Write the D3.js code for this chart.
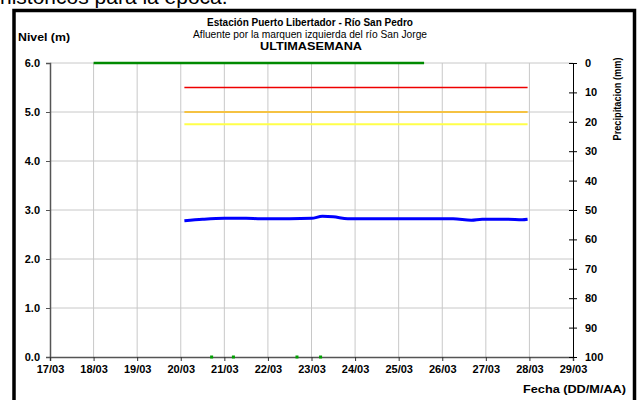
<!DOCTYPE html>
<html><head><meta charset="utf-8">
<script src="https://cdn.jsdelivr.net/npm/d3@7"></script>
<style>body{margin:0;background:#fff;}svg{display:block;font-family:"Liberation Sans",Arial,sans-serif;}</style>
</head><body>
<svg id="c" width="640" height="400"></svg>
<script>
// ---- data ----
const xTickLabels = ["17/03","18/03","19/03","20/03","21/03","22/03","23/03","24/03","25/03","26/03","27/03","28/03","29/03"];
const yTickLabels = ["0.0","1.0","2.0","3.0","4.0","5.0","6.0"];
const precipTickLabels = ["0","10","20","30","40","50","60","70","80","90","100"];
const levelTimes = ["20/03 02:00","20/03 12:00","21/03 00:00","21/03 12:00","21/03 20:00","22/03 12:00","23/03 00:00","23/03 06:00","23/03 12:00","23/03 20:00","24/03 12:00","25/03 12:00","26/03 06:00","26/03 16:00","26/03 22:00","27/03 12:00","27/03 20:00","27/03 23:00"];
const levelValues = [2.78,2.81,2.83,2.83,2.82,2.82,2.83,2.87,2.86,2.82,2.82,2.82,2.82,2.79,2.81,2.81,2.80,2.81];
const thresholdTimes = ["20/03 02:00","27/03 23:00"];
const thresholdRed = 5.5, thresholdOrange = 5.0, thresholdYellow = 4.75;
const precipTimes = ["18/03 00:00","19/03 00:00","20/03 00:00","21/03 00:00","22/03 00:00","23/03 00:00","24/03 00:00","25/03 00:00","25/03 14:00"];
const precipValues = [0,0,0,0,0,0,0,0,0];
const zeroTimes = ["20/03 17:00","21/03 05:00","22/03 16:00","23/03 05:00"];
const zeroValues = [0,0,0,0];

const parse = s => { const [d,t] = s.split(" "); const [dd,mm] = d.split("/").map(Number); const [hh,mi] = (t||"00:00").split(":").map(Number); return new Date(2013, mm-1, dd, hh, mi); };

const svg = d3.select("#c");
const L = 50, R = 573, T = 63, B = 357;
const x = d3.scaleTime().domain([parse("17/03 00:00"), parse("29/03 00:00")]).range([L, R]);
const y = d3.scaleLinear().domain([0, 6]).range([B, T]);
const yP = d3.scaleLinear().domain([0, 100]).range([T, B]);

// top cut-off text (cut off in the reference as well)
svg.append("text").attr("x", 0).attr("y", 4).attr("font-size", 21).attr("fill", "#000").text("históricos para la época.");

// frame
svg.append("rect").attr("x", 14).attr("y", 10.5).attr("width", 620.5).attr("height", 420).attr("fill", "none").attr("stroke", "#000").attr("stroke-width", 3.5);

// gridlines
const days = xTickLabels.map(s => parse(s + " 00:00"));
svg.append("g").selectAll("line").data(days.slice(1, -1)).join("line")
  .attr("x1", d => x(d)).attr("x2", d => x(d)).attr("y1", T).attr("y2", B)
  .attr("stroke", "#c8c8c8").attr("stroke-width", 1);
svg.append("g").selectAll("line").data(d3.range(1, 7)).join("line")
  .attr("x1", L).attr("x2", R).attr("y1", d => y(d)).attr("y2", d => y(d))
  .attr("stroke", "#c8c8c8").attr("stroke-width", 1);

// left axis
const gl = svg.append("g").attr("transform", `translate(${L},0)`)
  .call(d3.axisLeft(y).tickValues(d3.range(0, 7)).tickSize(4).tickFormat((d, i) => yTickLabels[i]));
gl.select(".domain").attr("stroke", "#555").attr("stroke-width", 1.5);
gl.selectAll(".tick line").attr("stroke", "#555");
gl.selectAll(".tick text").attr("font-size", 11).attr("font-weight", "bold").attr("font-family", "Liberation Sans, Arial").attr("x", -10).attr("fill", "#000");

// bottom axis
const gb = svg.append("g").attr("transform", `translate(0,${B})`)
  .call(d3.axisBottom(x).tickValues(days).tickSize(4).tickFormat((d, i) => xTickLabels[i]));
gb.select(".domain").attr("stroke", "#555").attr("stroke-width", 1.5);
gb.selectAll(".tick line").attr("stroke", "#333");
gb.selectAll(".tick text").attr("font-size", 11).attr("font-weight", "bold").attr("font-family", "Liberation Sans, Arial").attr("y", 8).attr("fill", "#000");

// right axis
const gr = svg.append("g").attr("transform", `translate(${R},0)`)
  .call(d3.axisRight(yP).tickValues(d3.range(0, 101, 10)).tickSizeInner(4).tickSizeOuter(0).tickFormat((d, i) => precipTickLabels[i]));
gr.select(".domain").attr("stroke", "#000").attr("stroke-width", 1);
gr.selectAll(".tick line").attr("stroke", "#000").attr("x1", -4);
gr.selectAll(".tick text").attr("font-size", 11).attr("font-weight", "bold").attr("font-family", "Liberation Sans, Arial").attr("x", 12).attr("fill", "#000");

// thresholds
const thr = [[thresholdRed, "#ee0000", 1.5], [thresholdOrange, "#f5c242", 2], [thresholdYellow, "#ffff4a", 2]];
thr.forEach(([v, c, w]) => {
  svg.append("path").datum(thresholdTimes.map(t => [parse(t), v]))
    .attr("d", d3.line().x(d => x(d[0])).y(d => y(d[1])))
    .attr("fill", "none").attr("stroke", c).attr("stroke-width", w);
});

// precipitation (green line at 0)
svg.append("path").datum(precipTimes.map((t, i) => [parse(t), precipValues[i]]))
  .attr("d", d3.line().x(d => x(d[0])).y(d => yP(d[1])))
  .attr("fill", "none").attr("stroke", "#008a00").attr("stroke-width", 2.5);

// level line
svg.append("path").datum(levelTimes.map((t, i) => [parse(t), levelValues[i]]))
  .attr("d", d3.line().curve(d3.curveMonotoneX).x(d => x(d[0])).y(d => y(d[1])))
  .attr("fill", "none").attr("stroke", "#0000ff").attr("stroke-width", 3);

// zero markers
svg.append("g").selectAll("rect").data(zeroTimes.map((t, i) => [parse(t), zeroValues[i]])).join("rect")
  .attr("x", d => x(d[0]) - 1.5).attr("y", d => y(d[1]) - 1.5).attr("width", 3).attr("height", 3).attr("fill", "#00a000");

// titles
const tt = (txt, xx, yy, bold, anchor, len) => {
  const t = svg.append("text").attr("x", xx).attr("y", yy).attr("font-size", 11)
    .attr("font-weight", bold ? "bold" : "normal").attr("text-anchor", anchor || "middle").attr("fill", "#000").text(txt);
  if (len) t.attr("textLength", len).attr("lengthAdjust", "spacingAndGlyphs");
  return t;
};
tt("Estación Puerto Libertador - Río San Pedro", 310, 26, true, "middle", 206);
tt("Afluente por la marquen izquierda del río San Jorge", 310, 38, false, "middle", 234);
tt("ULTIMASEMANA", 311, 50, true, "middle", 102);
tt("Nivel (m)", 18, 41, true, "start", 52);
tt("Fecha (DD/M/AA)", 626, 393, true, "end", 103);
svg.append("text").attr("transform", "translate(621,99) rotate(-90)").attr("text-anchor", "middle")
  .attr("font-size", 11).attr("font-weight", "bold").attr("fill", "#000")
  .attr("textLength", 83).attr("lengthAdjust", "spacingAndGlyphs").text("Precipitacion (mm)");
</script>
</body></html>
